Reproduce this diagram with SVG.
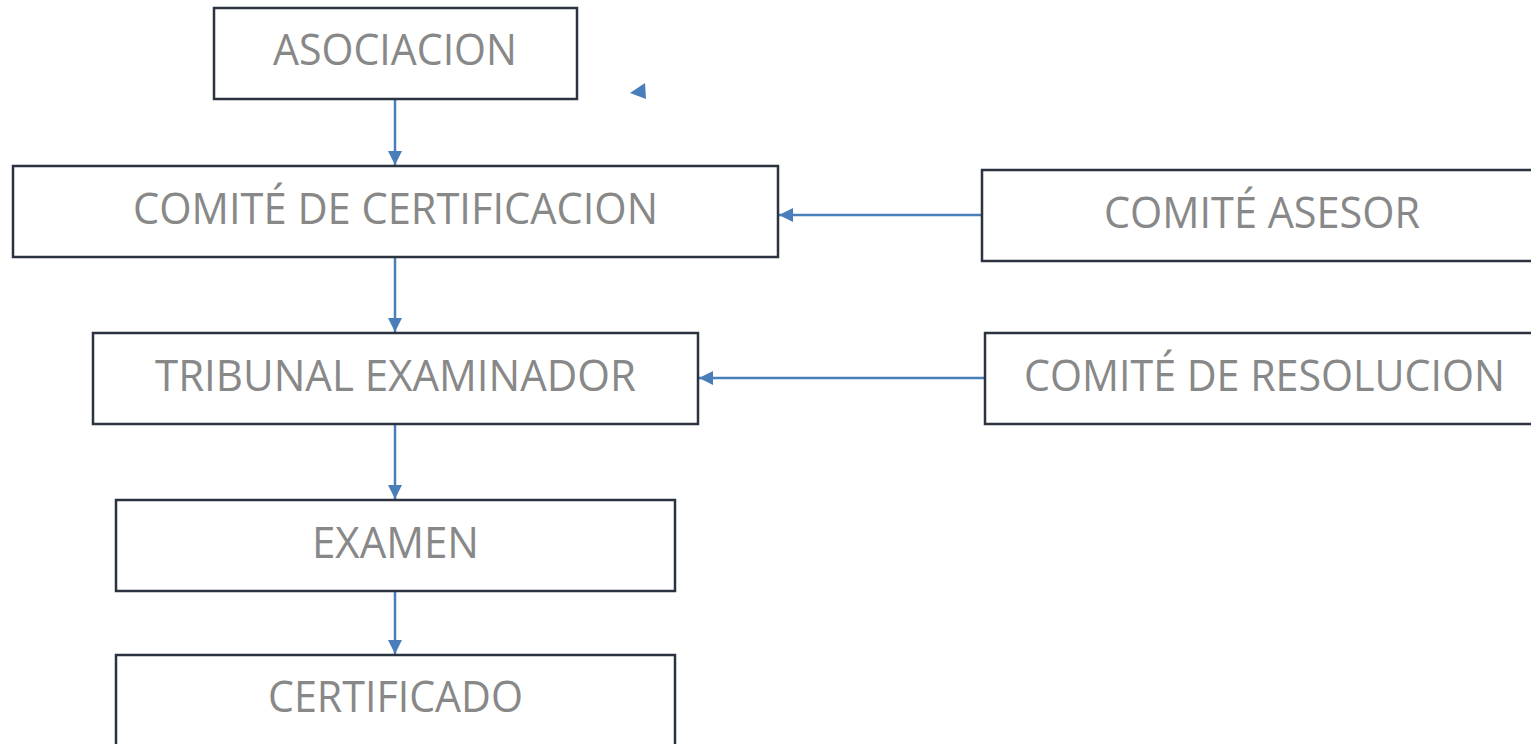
<svg xmlns="http://www.w3.org/2000/svg" width="1531" height="744" viewBox="0 0 1531 744">
<defs>
<style>
.box{fill:#fff;stroke:#2b3240;stroke-width:2.5}
.lbl{font-family:"Open Sans","Noto Sans",sans-serif;font-size:43px;fill:#888888}
.con{stroke:#4a7ebb;stroke-width:2.5;fill:none}
</style>
<marker id="ah" viewBox="0 0 14 14" refX="14" refY="7" markerWidth="14" markerHeight="14" markerUnits="userSpaceOnUse" orient="auto">
<path d="M0,0 L14,7 L0,14 z" fill="#4a7ebb"/>
</marker>
</defs>
<rect width="1531" height="744" fill="#fff"/>
<g id="connectors">
<line class="con" x1="395" y1="100" x2="395" y2="165" marker-end="url(#ah)"/>
<line class="con" x1="395" y1="258" x2="395" y2="332" marker-end="url(#ah)"/>
<line class="con" x1="395" y1="425" x2="395" y2="499" marker-end="url(#ah)"/>
<line class="con" x1="395" y1="592" x2="395" y2="654" marker-end="url(#ah)"/>
<line class="con" x1="981" y1="215" x2="779" y2="215" marker-end="url(#ah)"/>
<line class="con" x1="984" y1="378" x2="699" y2="378" marker-end="url(#ah)"/>
<polygon points="630,93 645,83 646,99" fill="#4a7ebb"/>
</g>
<g id="asociacion">
<rect class="box" x="214" y="8" width="363" height="91"/>
<text class="lbl" x="273" y="65" textLength="244" lengthAdjust="spacingAndGlyphs">ASOCIACION</text>
</g>
<g id="comite-certificacion">
<rect class="box" x="13" y="166" width="765" height="91"/>
<text class="lbl" x="133" y="224" textLength="525" lengthAdjust="spacingAndGlyphs">COMITÉ DE CERTIFICACION</text>
</g>
<g id="comite-asesor">
<rect class="box" x="982" y="170" width="560" height="91"/>
<text class="lbl" x="1104" y="228" textLength="316" lengthAdjust="spacingAndGlyphs">COMITÉ ASESOR</text>
</g>
<g id="tribunal-examinador">
<rect class="box" x="93" y="333" width="605" height="91"/>
<text class="lbl" x="155" y="391" textLength="481" lengthAdjust="spacingAndGlyphs">TRIBUNAL EXAMINADOR</text>
</g>
<g id="comite-resolucion">
<rect class="box" x="985" y="333" width="560" height="91"/>
<text class="lbl" x="1024" y="391" textLength="481" lengthAdjust="spacingAndGlyphs">COMITÉ DE RESOLUCION</text>
</g>
<g id="examen">
<rect class="box" x="116" y="500" width="559" height="91"/>
<text class="lbl" x="312" y="558" textLength="167" lengthAdjust="spacingAndGlyphs">EXAMEN</text>
</g>
<g id="certificado">
<rect class="box" x="116" y="655" width="559" height="100"/>
<text class="lbl" x="268" y="712" textLength="255" lengthAdjust="spacingAndGlyphs">CERTIFICADO</text>
</g>
</svg>
